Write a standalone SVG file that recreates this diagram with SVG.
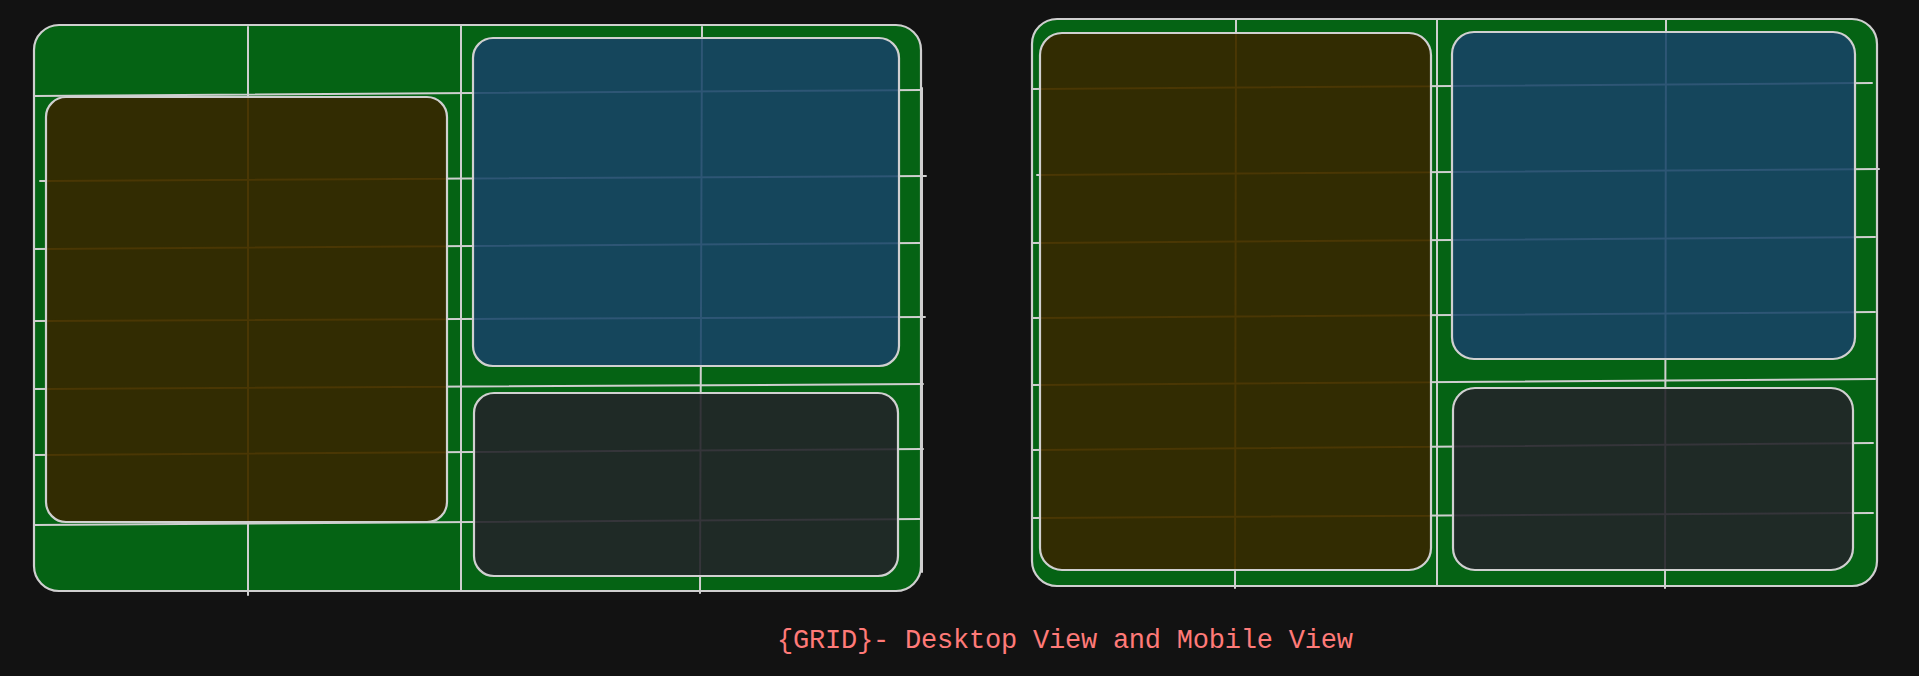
<svg xmlns="http://www.w3.org/2000/svg" xmlns:xlink="http://www.w3.org/1999/xlink" width="1919" height="676" viewBox="0 0 1919 676">
<style>
.frame{fill:#056314;stroke:#cfcfcf;stroke-width:2.2}
.cell{stroke:#d0d0d0;stroke-width:2.2}
.gl line{stroke-width:2;stroke-linecap:round}
.yel{fill:#322c02}
.blu{fill:#15465c}
.drk{fill:#1f2a26}
.title{font-family:"Liberation Mono","DejaVu Sans Mono",monospace;font-size:27px;fill:#ff7a78}
</style>
<defs>
<g id="gridL" class="gl">
<line x1="248" y1="27" x2="248" y2="595"/>
<line x1="461" y1="25" x2="461" y2="591"/>
<line x1="702" y1="27" x2="700" y2="593"/>
<line x1="922" y1="88" x2="922" y2="572"/>
<line x1="34" y1="96" x2="922" y2="90"/>
<line x1="40" y1="181" x2="926" y2="176"/>
<line x1="34" y1="249" x2="921" y2="243"/>
<line x1="34" y1="321" x2="925" y2="317"/>
<line x1="34" y1="389" x2="923" y2="384"/>
<line x1="34" y1="455" x2="923" y2="449"/>
<line x1="34" y1="525" x2="921" y2="519"/>
</g>
<g id="gridR" class="gl">
<line x1="1236" y1="20" x2="1235" y2="588"/>
<line x1="1437" y1="19" x2="1437" y2="586"/>
<line x1="1666" y1="20" x2="1665" y2="588"/>
<line x1="1032" y1="89" x2="1872" y2="83"/>
<line x1="1037" y1="175" x2="1879" y2="169"/>
<line x1="1032" y1="243" x2="1875" y2="237"/>
<line x1="1032" y1="318" x2="1875" y2="312"/>
<line x1="1032" y1="385" x2="1875" y2="379"/>
<line x1="1032" y1="450" x2="1873" y2="443"/>
<line x1="1032" y1="518" x2="1873" y2="513"/>
</g>
<clipPath id="cLY"><rect x="46" y="97" width="401" height="425" rx="20"/></clipPath>
<clipPath id="cLB"><rect x="473" y="38" width="426" height="328" rx="20"/></clipPath>
<clipPath id="cLD"><rect x="474" y="393" width="424" height="183" rx="20"/></clipPath>
<clipPath id="cRY"><rect x="1040" y="33" width="391" height="537" rx="22"/></clipPath>
<clipPath id="cRB"><rect x="1452" y="32" width="403" height="327" rx="22"/></clipPath>
<clipPath id="cRD"><rect x="1453" y="388" width="400" height="182" rx="22"/></clipPath>
</defs>
<rect width="1919" height="676" fill="#121212"/>

<g id="desktop-frame">
<rect class="frame" x="34" y="25" width="887" height="566" rx="25"/>
</g>
<g id="mobile-frame">
<rect class="frame" x="1032" y="19" width="845" height="567" rx="25"/>
</g>

<g id="connectors">
<use href="#gridL" stroke="#cfcfcf"/>
<use href="#gridR" stroke="#cfcfcf"/>
</g>

<g id="desktop-sidebar">
<rect class="yel" x="46" y="97" width="401" height="425" rx="20"/>
<use href="#gridL" stroke="#4a3704" clip-path="url(#cLY)"/>
<rect class="cell" fill="none" x="46" y="97" width="401" height="425" rx="20"/>
</g>
<g id="desktop-main">
<rect class="blu" x="473" y="38" width="426" height="328" rx="20"/>
<use href="#gridL" stroke="#2e5675" clip-path="url(#cLB)"/>
<rect class="cell" fill="none" x="473" y="38" width="426" height="328" rx="20"/>
</g>
<g id="desktop-footer">
<rect class="drk" x="474" y="393" width="424" height="183" rx="20"/>
<use href="#gridL" stroke="#35353a" clip-path="url(#cLD)"/>
<rect class="cell" fill="none" x="474" y="393" width="424" height="183" rx="20"/>
</g>

<g id="mobile-sidebar">
<rect class="yel" x="1040" y="33" width="391" height="537" rx="22"/>
<use href="#gridR" stroke="#4a3704" clip-path="url(#cRY)"/>
<rect class="cell" fill="none" x="1040" y="33" width="391" height="537" rx="22"/>
</g>
<g id="mobile-main">
<rect class="blu" x="1452" y="32" width="403" height="327" rx="22"/>
<use href="#gridR" stroke="#2e5675" clip-path="url(#cRB)"/>
<rect class="cell" fill="none" x="1452" y="32" width="403" height="327" rx="22"/>
</g>
<g id="mobile-footer">
<rect class="drk" x="1453" y="388" width="400" height="182" rx="22"/>
<use href="#gridR" stroke="#35353a" clip-path="url(#cRD)"/>
<rect class="cell" fill="none" x="1453" y="388" width="400" height="182" rx="22"/>
</g>

<g id="caption">
<text class="title" x="777" y="648" textLength="576" lengthAdjust="spacing">{GRID}- Desktop View and Mobile View</text>
</g>
</svg>
